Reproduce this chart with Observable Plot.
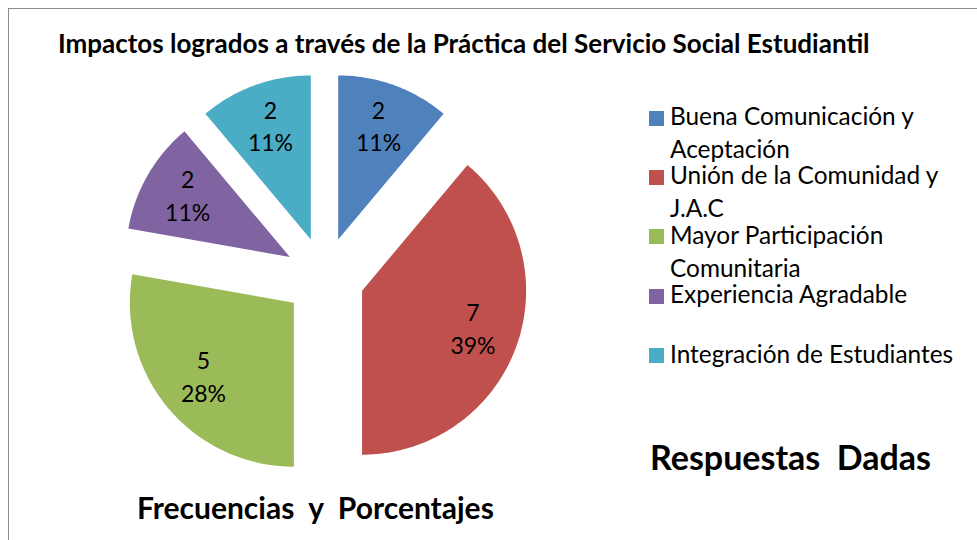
<!DOCTYPE html>
<html>
<head>
<meta charset="utf-8">
<script src="https://cdn.jsdelivr.net/npm/d3@7"></script>
<script src="https://cdn.jsdelivr.net/npm/@observablehq/plot@0.6"></script>
<style>
  html, body { margin: 0; padding: 0; background: #fff; }
  #wrap { position: relative; width: 977px; height: 540px; overflow: hidden; font-family: Lato, "Open Sans", sans-serif; color: #000; }
  #frame { position: absolute; left: 8px; top: 8px; width: 1200px; height: 800px; border-left: 1.5px solid #8c8c8c; border-top: 1.5px solid #8c8c8c; }
  #chart { position: absolute; left: 0; top: 0; }
  .t { position: absolute; white-space: pre; font-weight: 700; line-height: normal; }
  #title { left: 58px; top: 26.6px; font-size: 26px; }
  #resp { left: 650px; top: 436px; font-size: 34px; }
  #freq { left: 137px; top: 489px; font-size: 30px; }
  #legend { position: absolute; left: 649px; top: 0; }
  .item { position: absolute; left: 0; width: 330px; }
  .sw { position: absolute; left: 0; width: 15px; height: 15px; }
  .lab { position: absolute; left: 21px; font-size: 24.4px; line-height: 33px; white-space: pre; }
</style>
</head>
<body>
<div id="wrap">
  <div id="frame"></div>
  <div id="chart"></div>
  <div class="t" id="title"></div>
  <div class="t" id="resp"></div>
  <div class="t" id="freq"></div>
  <div id="legend"></div>
</div>
<script>
// ---- data ----
const categories = [
  "Buena Comunicación y Aceptación",
  "Unión de la Comunidad y J.A.C",
  "Mayor Participación Comunitaria",
  "Experiencia Agradable",
  "Integración de Estudiantes"
];
const legendLines = [
  ["Buena Comunicación y", "Aceptación"],
  ["Unión de la Comunidad y", "J.A.C"],
  ["Mayor Participación", "Comunitaria"],
  ["Experiencia Agradable"],
  ["Integración de Estudiantes"]
];
const values = [2, 7, 5, 2, 2];
const colors = ["#4F81BD", "#C0504D", "#9BBB59", "#8064A2", "#4BACC6"];
const titleText = "Impactos logrados a través de la Práctica del Servicio Social Estudiantil";
const legendTitle = "Respuestas  Dadas";
const valueTitle = "Frecuencias  y  Porcentajes";

// ---- layout ----
const W = 977, H = 540;
const cx = 324, cy = 276.5, R = 164, explode = 40, labelR = 118;

const total = d3.sum(values);
const rad = Math.PI / 180;
let acc = 0;
const slices = values.map((v, i) => {
  const a0 = acc / total * 360;
  acc += v;
  const a1 = acc / total * 360;
  const mid = (a0 + a1) / 2;
  const vx = cx + explode * Math.sin(mid * rad);
  const vy = cy - explode * Math.cos(mid * rad);
  return {
    name: categories[i], value: v, a0, a1, mid, vx, vy,
    pct: Math.round(v / total * 100),
    lx: vx + labelR * Math.sin(mid * rad),
    ly: vy - labelR * Math.cos(mid * rad)
  };
});

const points = [];
for (const s of slices) {
  points.push({name: s.name, x: s.vx, y: s.vy});
  const n = Math.max(2, Math.ceil(s.a1 - s.a0));
  for (let k = 0; k <= n; k++) {
    const a = (s.a0 + (s.a1 - s.a0) * k / n) * rad;
    points.push({name: s.name, x: s.vx + R * Math.sin(a), y: s.vy - R * Math.cos(a)});
  }
  points.push({name: s.name, x: s.vx, y: s.vy});
}

const plot = Plot.plot({
  width: W, height: H,
  margin: 0,
  x: {domain: [0, W], range: [0, W], axis: null},
  y: {domain: [0, H], range: [0, H], axis: null},
  color: {domain: categories, range: colors},
  style: {background: "transparent", overflow: "visible"},
  marks: [
    Plot.line(points, {x: "x", y: "y", z: "name", fill: "name", stroke: "none", curve: "linear"}),
    Plot.text(slices, {
      x: "lx", y: "ly",
      text: d => `${d.value}\n${d.pct}%`,
      fontSize: 23, lineHeight: 1.43, dy: -4,
      fontFamily: "Lato, 'Open Sans', sans-serif",
      fill: "#000", textAnchor: "middle"
    })
  ]
});
document.getElementById("chart").appendChild(plot);

document.getElementById("title").textContent = titleText;
document.getElementById("resp").textContent = legendTitle;
document.getElementById("freq").textContent = valueTitle;

const legend = document.getElementById("legend");
const baseY = 125, step = 59.4;
legendLines.forEach((lines, i) => {
  const item = document.createElement("div");
  item.className = "item";
  item.style.top = (baseY + step * i - 26) + "px";
  const sw = document.createElement("div");
  sw.className = "sw";
  sw.style.background = colors[i];
  sw.style.top = "11.5px";
  const lab = document.createElement("div");
  lab.className = "lab";
  lab.textContent = lines.join("\n");
  item.appendChild(sw);
  item.appendChild(lab);
  legend.appendChild(item);
});
</script>
</body>
</html>
